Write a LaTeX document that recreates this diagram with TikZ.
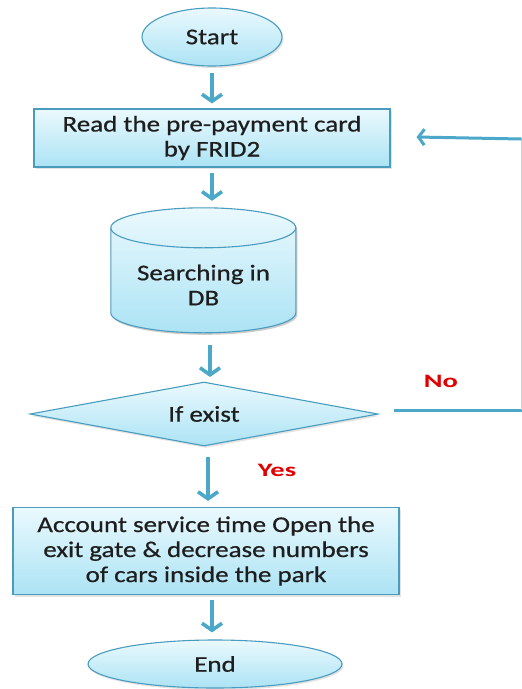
\documentclass[tikz,border=0pt]{standalone}
\usepackage{fontspec}
\setmainfont[FakeStretch=1.2]{Carlito}
\newfontfamily\boxfont[FakeStretch=1.2,FakeBold=0.6]{Carlito}
\usetikzlibrary{shapes.geometric,arrows.meta,shadows}
\definecolor{bord}{HTML}{4A9CBE}
\definecolor{arr}{HTML}{4BA8C8}
\definecolor{ftop}{HTML}{EAF9FE}
\definecolor{fbot}{HTML}{ACE3F4}
\definecolor{txt}{HTML}{1E1E1E}
\definecolor{lbl}{HTML}{E00000}
\tikzset{
  shp/.style={draw=bord, line width=1.1pt, top color=ftop, bottom color=fbot,
    text=txt, font=\boxfont\fontsize{22.5}{25}\selectfont, align=center,
    drop shadow={opacity=0.22, shadow xshift=1.5pt, shadow yshift=-2pt}},
  term/.style={shp, ellipse, inner sep=0pt},
  proc/.style={shp, rectangle, inner sep=0pt},
  dec/.style={shp, diamond, inner sep=0pt, aspect=5.4},
  flow/.style={draw=arr, line width=3.6pt, -{Straight Barb[length=7pt,width=20pt]}},
  lab/.style={text=lbl, font=\bfseries\fontsize{19}{22}\selectfont, transform shape, xscale=1.25},
}
\begin{document}
\begin{tikzpicture}[x=1pt,y=-1pt]
\useasboundingbox (0,0) rectangle (522,689);
\node[term, minimum width=140pt, minimum height=58pt] (start) at (212,37) {Start};
\node[proc, minimum width=356pt, minimum height=58pt] (read) at (212,138) {Read the pre-payment card\\by FRID2};
% database cylinder
\node[minimum width=185pt, minimum height=125pt, inner sep=0pt] (db) at (203.5,270.5) {};
\fill[black, opacity=0.2] ([xshift=1.5pt,yshift=-2pt]db.north west) ++(0,20) -- ++(0,85)
  arc[start angle=180, end angle=360, x radius=92.5, y radius=-20]
  -- ++(0,-85)
  arc[start angle=0, end angle=180, x radius=92.5, y radius=-20] -- cycle;
\path[draw=bord, line width=1.1pt, top color=ftop, bottom color=fbot]
  (db.north west) ++(0,20) -- ++(0,85)
  arc[start angle=180, end angle=360, x radius=92.5, y radius=-20]
  -- ++(0,-85)
  arc[start angle=0, end angle=180, x radius=92.5, y radius=-20] -- cycle;
\draw[bord, line width=1.1pt] (db.north west) ++(0,20)
  arc[start angle=180, end angle=360, x radius=92.5, y radius=-20];
\node[text=txt, font=\boxfont\fontsize{22.5}{25}\selectfont, align=center] (dbt) at (203.5,285) {Searching in\\DB};
\node[dec, minimum width=348pt, minimum height=64pt] (exist) at (204,414) {If exist};
\node[proc, minimum width=386pt, minimum height=87pt] (acc) at (206,551) {Account service time Open the\\exit gate \& decrease numbers\\of cars inside the park};
\node[term, minimum width=254pt, minimum height=48pt] (end) at (215,664) {End};
% connectors
\draw[flow] ([yshift=-6pt]start.south) -- ([yshift=5pt]read.north);
\draw[flow] ([yshift=-5pt]read.south) -- ([yshift=7pt]read.south |- db.north);
\draw[flow] (210,345) -- (210,377);
\draw[flow] ([xshift=4pt,yshift=-10pt]exist.south) -- ([xshift=2pt,yshift=6pt]acc.north);
\draw[flow] ([xshift=6pt,yshift=-5pt]acc.south) -- ([xshift=-3pt,yshift=7pt]end.north);
\coordinate (c1) at (521.5,410);
\coordinate (c2) at (521.5,139);
\draw[draw=arr, line width=3pt] ([xshift=15pt,yshift=4pt]exist.east) -- (c1);
\draw[draw=black!18, line width=0.8pt] (c1) -- (c2);
\draw[draw=arr, line width=3pt, -{Straight Barb[length=6pt,width=16pt]}] (c2) -- ([xshift=26pt,yshift=1pt]read.east);
\node[lab] (no) at (441,381) {No};
\node[lab] (yes) at (277,470) {Yes};
\end{tikzpicture}
\end{document}
